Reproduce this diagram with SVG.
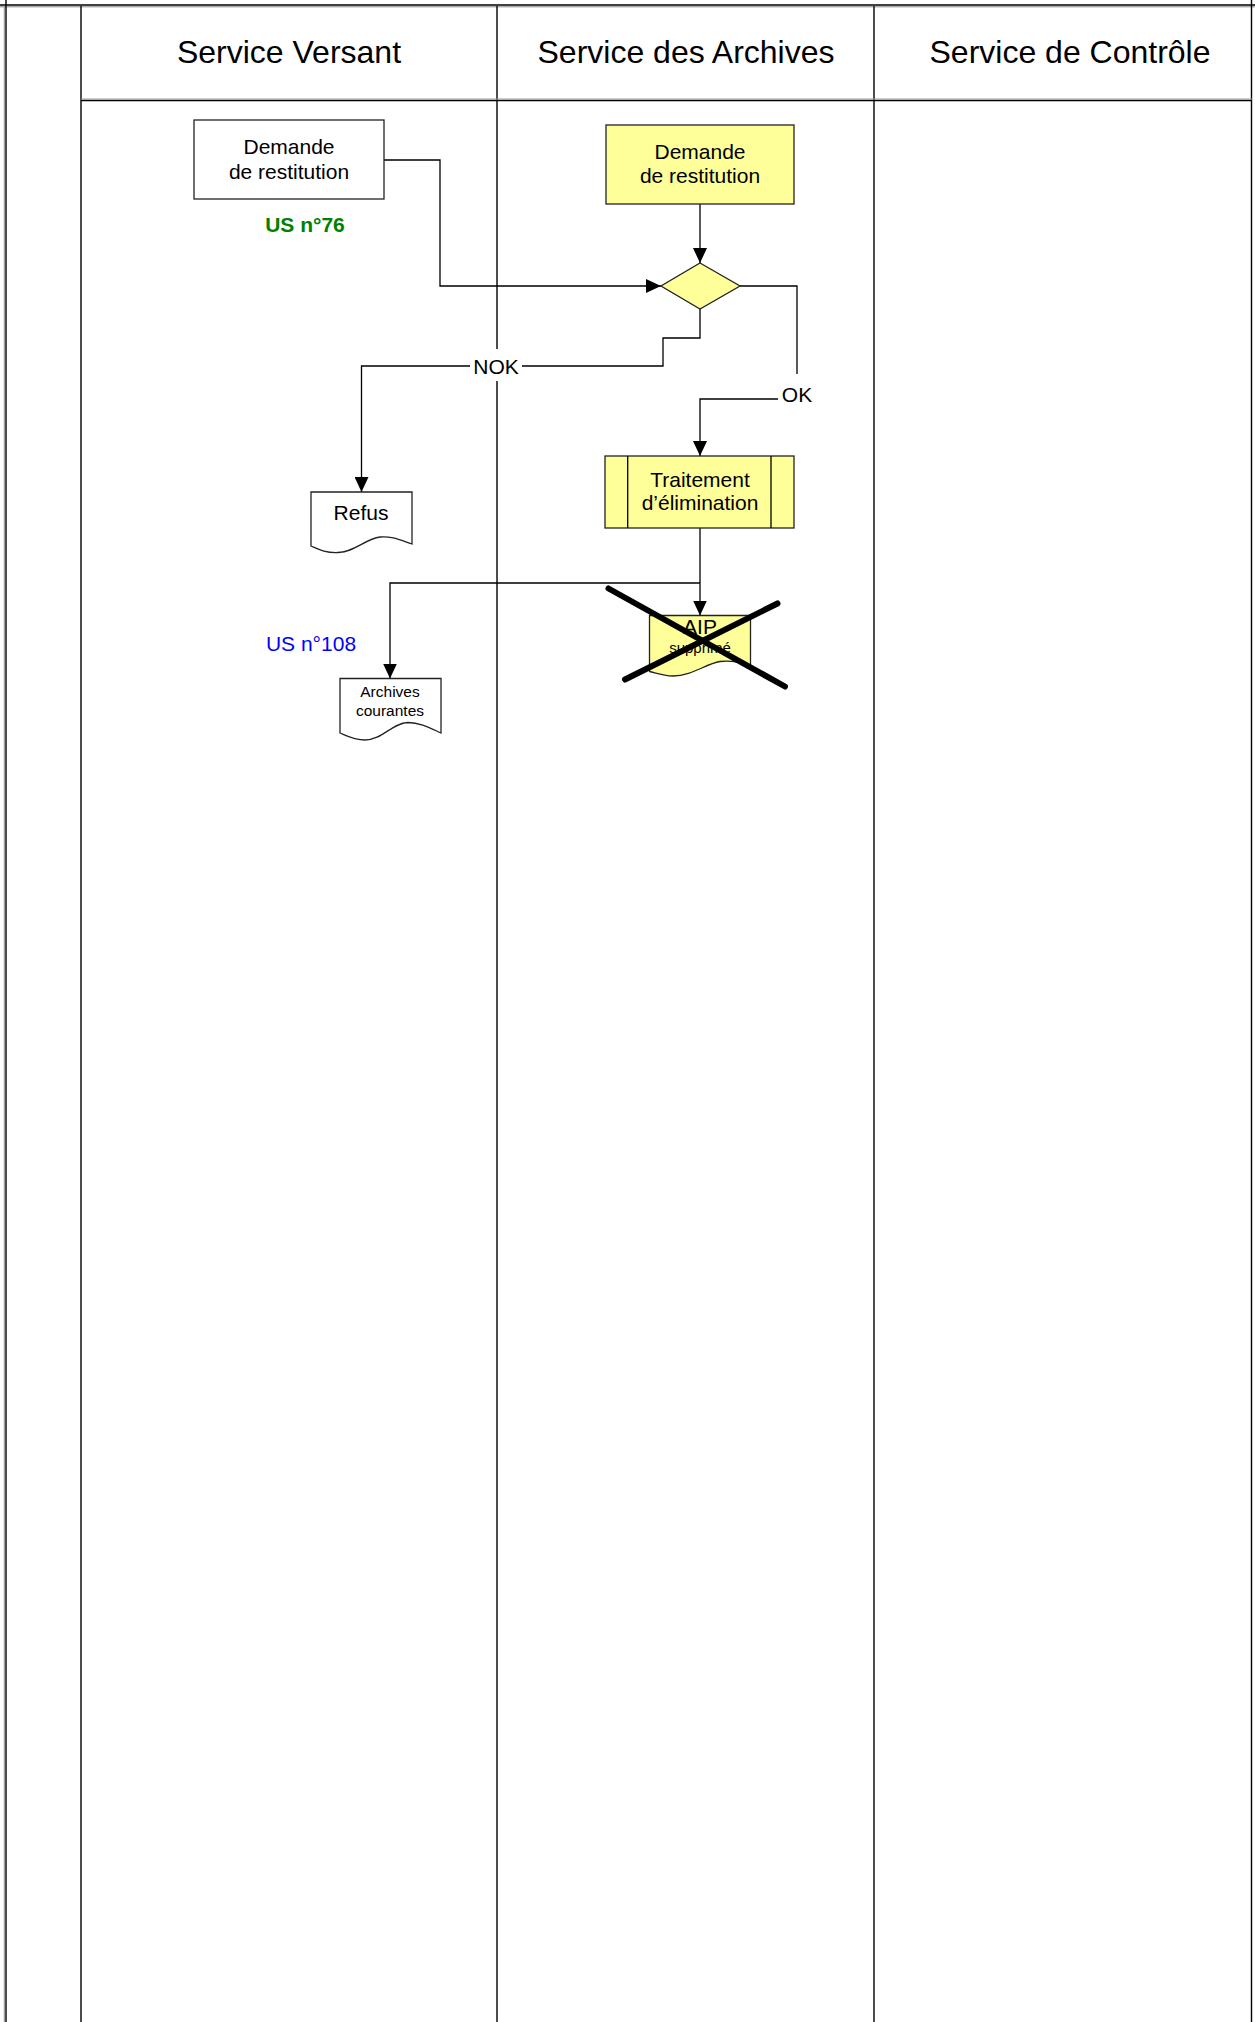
<svg xmlns="http://www.w3.org/2000/svg" width="1255" height="2022" viewBox="0 0 1255 2022">
<defs>
<marker id="arr" markerUnits="userSpaceOnUse" markerWidth="15" markerHeight="14" refX="15" refY="7" orient="auto">
<path d="M0,0 L15,7 L0,14 z" fill="#000"/>
</marker>
<style>
.lane{stroke:#000;stroke-width:1.4;fill:none}
.hdr{font-family:"Liberation Sans",Arial,sans-serif;font-size:32px;fill:#000;text-anchor:middle}
.t{font-family:"Liberation Sans",Arial,sans-serif;font-size:21px;fill:#000;text-anchor:middle}
.conn{stroke:#000;stroke-width:1.3;fill:none}
.box{stroke:#222;stroke-width:1.3;fill:#fff}
.yel{stroke:#222;stroke-width:1.3;fill:#ffff99}
</style>
</defs>
<rect x="0" y="0" width="1255" height="2022" fill="#fff"/>
<g id="frame">
<line class="lane" x1="0" y1="5" x2="1255" y2="5"/>
<line x1="0" y1="6.8" x2="1255" y2="6.8" stroke="#888" stroke-width="1"/>
<line class="lane" x1="6" y1="0" x2="6" y2="2022"/>
<line x1="4.3" y1="7" x2="4.3" y2="2022" stroke="#888" stroke-width="1"/>
<line class="lane" x1="1251.5" y1="0" x2="1251.5" y2="2022"/>
<line class="lane" x1="81" y1="6" x2="81" y2="2022"/>
<line class="lane" x1="497" y1="6" x2="497" y2="2022"/>
<line class="lane" x1="874" y1="6" x2="874" y2="2022"/>
<line class="lane" x1="81" y1="100.5" x2="1252" y2="100.5"/>
<line x1="81" y1="99" x2="1252" y2="99" stroke="#999" stroke-width="1"/>
<text class="hdr" x="289" y="63">Service Versant</text>
<text class="hdr" x="686" y="63">Service des Archives</text>
<text class="hdr" x="1070" y="63">Service de Contrôle</text>
</g>
<g id="connectors">
<path class="conn" d="M384,160 H440 V286 H661" marker-end="url(#arr)"/>
<path class="conn" d="M700,204 V263" marker-end="url(#arr)"/>
<path class="conn" d="M700,309 V338 H663 V366 H361.5 V492" marker-end="url(#arr)"/>
<path class="conn" d="M740,286 H797 V399 H700 V456" marker-end="url(#arr)"/>
<path class="conn" d="M700,528 V615.5" marker-end="url(#arr)"/>
<path class="conn" d="M700,583 H390 V678.5" marker-end="url(#arr)"/>
<rect x="470" y="349" width="52" height="32" fill="#fff"/>
<text class="t" x="496" y="373.5">NOK</text>
<rect x="778" y="374" width="40" height="34" fill="#fff"/>
<text class="t" x="797" y="402">OK</text>
</g>
<g id="n1">
<rect class="box" x="194" y="120" width="190" height="79"/>
<text class="t" x="289" y="154">Demande</text>
<text class="t" x="289" y="179">de restitution</text>
</g>
<g id="us76">
<text x="305" y="232" font-family="Liberation Sans,Arial,sans-serif" font-size="21" font-weight="bold" fill="#008000" text-anchor="middle">US n°76</text>
</g>
<g id="n2">
<rect class="yel" x="606" y="125" width="188" height="79"/>
<text class="t" x="700" y="159">Demande</text>
<text class="t" x="700" y="183">de restitution</text>
</g>
<g id="decision">
<polygon class="yel" points="700,263 740,286 700,309 661,286"/>
</g>
<g id="traitement">
<rect class="yel" x="605" y="456" width="189" height="72"/>
<line class="conn" x1="627.7" y1="456" x2="627.7" y2="528"/>
<line class="conn" x1="771" y1="456" x2="771" y2="528"/>
<text class="t" x="700" y="487">Traitement</text>
<text class="t" x="700" y="510">d’élimination</text>
</g>
<g id="refus">
<path class="box" d="M311,492 H412 V544 C400,540 392,536 380,537 C365,539 355,552 338,552.5 C325,553 318,549 311,546 Z"/>
<text class="t" x="361" y="520">Refus</text>
</g>
<g id="us108">
<text x="311" y="651" font-family="Liberation Sans,Arial,sans-serif" font-size="21" fill="#0000ff" text-anchor="middle">US n°108</text>
</g>
<g id="archives">
<path class="box" d="M340,678.5 H441 V733 C430,728 420,722.5 408,722.5 C392,723 382,740 365,740 C354,740 347,736 340,733 Z"/>
<text x="390" y="696.5" font-family="Liberation Sans,Arial,sans-serif" font-size="15.5" fill="#000" text-anchor="middle">Archives</text>
<text x="390" y="715.5" font-family="Liberation Sans,Arial,sans-serif" font-size="15.5" fill="#000" text-anchor="middle">courantes</text>
</g>
<g id="aip">
<path class="yel" d="M649.5,615.5 H750.5 V665 C740,662 730,660 720,661.5 C705,664 692,676 673,676 C663,676 656,673 649.5,671.5 Z"/>
<text class="t" x="700" y="634">AIP</text>
<text x="700" y="653" font-family="Liberation Sans,Arial,sans-serif" font-size="15" fill="#000" text-anchor="middle">supprimé</text>
<line x1="608.5" y1="588.5" x2="785" y2="686.5" stroke="#000" stroke-width="6" stroke-linecap="round"/>
<line x1="777.5" y1="603.5" x2="625" y2="679.5" stroke="#000" stroke-width="6" stroke-linecap="round"/>
</g>
</svg>
